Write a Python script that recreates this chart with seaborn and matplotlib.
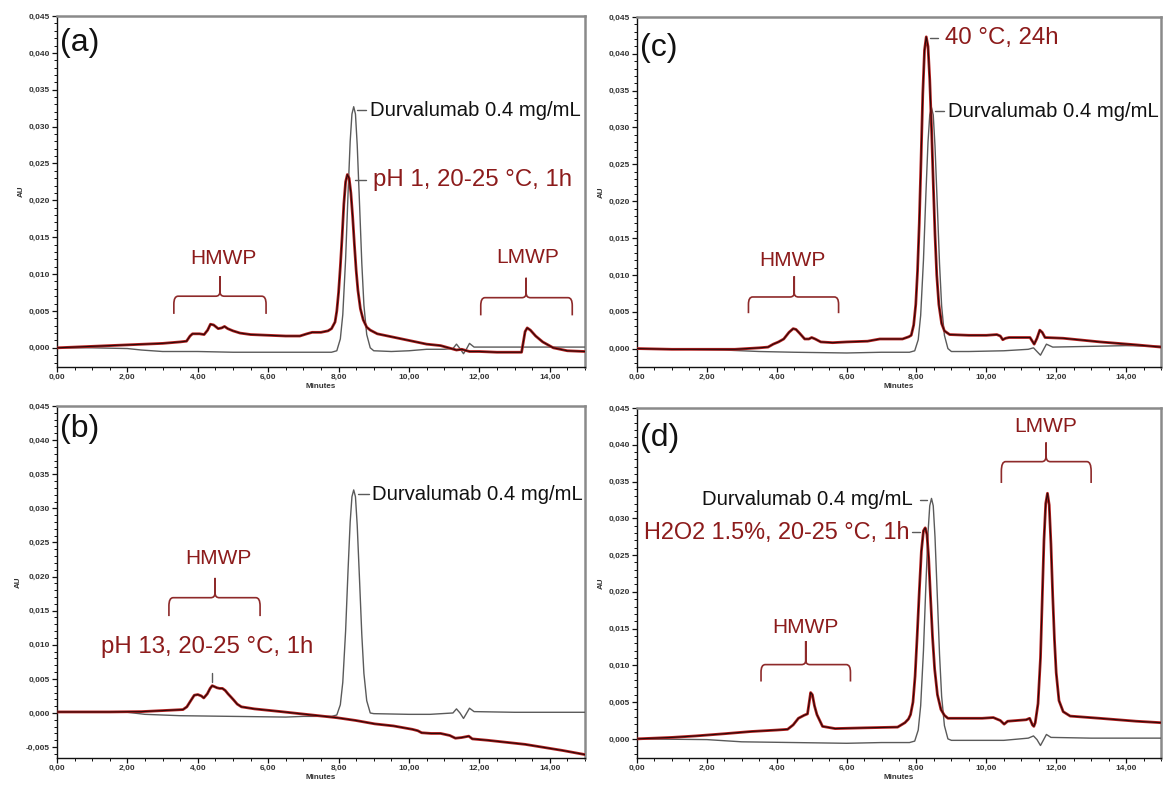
import numpy as np
import pandas as pd
import matplotlib
matplotlib.use("Agg")
import matplotlib.pyplot as plt
from matplotlib.path import Path
from matplotlib.patches import PathPatch
from matplotlib.ticker import MultipleLocator, FuncFormatter
import seaborn as sns

# ---- chromatogram traces: (minutes, AU) -------------------------------------
# Durvalumab 0.4 mg/mL reference injection, as recorded next to each stress sample
ref_a = [(0, 0.0), (1.0, 0.0), (2.0, -0.0001), (2.4, -0.0003), (3.0, -0.0005), (4.0, -0.0005),
         (5.0, -0.0006), (6.0, -0.0006), (7.0, -0.0006), (7.8, -0.0006), (7.95, -0.0004),
         (8.05, 0.0012), (8.12, 0.0045), (8.20, 0.0120), (8.27, 0.0210), (8.33, 0.0280),
         (8.38, 0.0317), (8.43, 0.0327), (8.48, 0.0317), (8.53, 0.0275), (8.60, 0.0190),
         (8.66, 0.0115), (8.72, 0.0058), (8.80, 0.0018), (8.90, 0.0), (9.0, -0.0004),
         (9.5, -0.0005), (10.0, -0.0004), (10.5, -0.0002), (11.0, -0.0002), (11.25, -0.0001),
         (11.35, 0.0005), (11.45, -0.0001), (11.55, -0.0008), (11.63, -0.0002), (11.72, 0.0006),
         (11.85, 0.0001), (12.5, 0.0001), (13.5, 0.0001), (15.0, 0.0001)]

ref_b = [(0, 0.0001), (2.0, 0.0001), (2.5, -0.0002), (3.5, -0.0004), (5.0, -0.0005),
         (6.5, -0.0006), (7.0, -0.0005), (7.8, -0.0005), (7.95, -0.0003),
         (8.05, 0.0012), (8.12, 0.0045), (8.20, 0.0120), (8.27, 0.0210), (8.33, 0.0280),
         (8.38, 0.0317), (8.43, 0.0327), (8.48, 0.0317), (8.53, 0.0275), (8.60, 0.0190),
         (8.66, 0.0115), (8.72, 0.0058), (8.80, 0.0018), (8.90, 0.0), (9.0, -0.0001),
         (10.0, -0.0002), (10.6, -0.0002), (11.25, 0.0), (11.35, 0.0006), (11.45, 0.0),
         (11.55, -0.0008), (11.63, -0.0001), (11.72, 0.0007), (11.85, 0.0002), (13.0, 0.0001),
         (15.0, 0.0001)]

ref_c = [(0, 0.0), (1.5, -0.0001), (2.5, -0.0002), (3.5, -0.0004), (4.5, -0.0005),
         (6.0, -0.0006), (7.0, -0.0005), (7.8, -0.0005), (7.95, -0.0003),
         (8.05, 0.0012), (8.12, 0.0045), (8.20, 0.0120), (8.27, 0.0210), (8.33, 0.0280),
         (8.38, 0.0317), (8.43, 0.0327), (8.48, 0.0317), (8.53, 0.0275), (8.60, 0.0190),
         (8.66, 0.0115), (8.72, 0.0058), (8.80, 0.0018), (8.90, 0.0), (9.0, -0.0004),
         (9.5, -0.0004), (10.5, -0.0003), (11.2, -0.0001), (11.35, 0.0001), (11.55, -0.0009),
         (11.72, 0.0006), (11.9, 0.0002), (13.0, 0.0003), (14.0, 0.0004), (15.0, 0.0003)]

ref_d = [(0, 0.0), (2.0, -0.0001), (3.0, -0.0004), (4.5, -0.0005), (6.0, -0.0006),
         (7.0, -0.0005), (7.8, -0.0005), (7.95, -0.0003),
         (8.05, 0.0012), (8.12, 0.0045), (8.20, 0.0120), (8.27, 0.0210), (8.33, 0.0280),
         (8.38, 0.0317), (8.43, 0.0327), (8.48, 0.0317), (8.53, 0.0275), (8.60, 0.0190),
         (8.66, 0.0115), (8.72, 0.0058), (8.80, 0.0018), (8.90, 0.0), (9.0, -0.0002),
         (9.5, -0.0002), (10.5, -0.0002), (11.2, 0.0001), (11.35, 0.0004), (11.45, -0.0001),
         (11.55, -0.0009), (11.63, -0.0002), (11.72, 0.0006), (11.85, 0.0002), (13.0, 0.0001),
         (15.0, 0.0001)]

# Stressed samples
acid_a = [(0, 0.0), (1.0, 0.0002), (2.0, 0.0004), (3.0, 0.0006), (3.5, 0.0008), (3.68, 0.0009),
          (3.78, 0.0016), (3.85, 0.0019), (4.05, 0.0019), (4.18, 0.0018), (4.28, 0.0024),
          (4.36, 0.0032), (4.45, 0.0031), (4.58, 0.0026), (4.68, 0.0027), (4.76, 0.0029),
          (4.85, 0.0026), (5.0, 0.0023), (5.2, 0.0020), (5.5, 0.0018), (6.0, 0.0017),
          (6.5, 0.0016), (6.9, 0.0016), (7.1, 0.0019), (7.25, 0.0021), (7.5, 0.0021),
          (7.7, 0.0023), (7.8, 0.0026), (7.9, 0.0035), (7.95, 0.0050), (8.00, 0.0075),
          (8.05, 0.0110), (8.10, 0.0150), (8.15, 0.0195), (8.20, 0.0225), (8.25, 0.0235),
          (8.30, 0.0230), (8.35, 0.0210), (8.40, 0.0178), (8.45, 0.0140), (8.50, 0.0105),
          (8.55, 0.0078), (8.62, 0.0053), (8.70, 0.0038), (8.80, 0.0028), (8.90, 0.0024),
          (9.1, 0.0019), (9.6, 0.0014), (10.1, 0.0009), (10.5, 0.0005), (10.9, 0.0003),
          (11.2, -0.0001), (11.35, -0.0003), (11.5, -0.0002), (11.72, -0.0005), (12.0, -0.0005),
          (12.5, -0.0006), (13.0, -0.0006), (13.2, -0.0006), (13.25, 0.0008), (13.3, 0.0022),
          (13.36, 0.0027), (13.45, 0.0024), (13.6, 0.0016), (13.8, 0.0008), (14.1, 0.0),
          (14.5, -0.0004), (15.0, -0.0005)]

base_b = [(0, 0.00015), (1.5, 0.00015), (2.4, 0.0002), (3.2, 0.0004), (3.58, 0.0005),
          (3.69, 0.0009), (3.8, 0.0018), (3.9, 0.0026), (4.0, 0.0027), (4.1, 0.0025),
          (4.17, 0.0022), (4.27, 0.0028), (4.35, 0.0036), (4.41, 0.0040), (4.5, 0.0038),
          (4.54, 0.0037), (4.62, 0.0036), (4.7, 0.0036), (4.78, 0.0033), (4.86, 0.0028),
          (4.95, 0.0023), (5.02, 0.0019), (5.12, 0.0013), (5.24, 0.0009), (5.61, 0.0006),
          (6.36, 0.0002), (6.89, -0.0001), (7.43, -0.0004), (7.96, -0.0007), (8.49, -0.0011),
          (9.03, -0.0016), (9.56, -0.0019), (10.1, -0.0024), (10.25, -0.0026), (10.36, -0.0029),
          (10.63, -0.0030), (10.9, -0.0030), (11.16, -0.0033), (11.32, -0.0037), (11.5, -0.0036),
          (11.6, -0.0035), (11.7, -0.0034), (11.8, -0.0038), (12.23, -0.0040), (13.3, -0.0046),
          (14.37, -0.0055), (15.0, -0.0061)]

heat_c = [(0, 0.0), (1.0, -0.0001), (2.0, -0.0001), (2.8, -0.0001), (3.5, 0.0001),
          (3.75, 0.0002), (3.9, 0.0006), (4.05, 0.0009), (4.2, 0.0013), (4.35, 0.0022),
          (4.47, 0.0027), (4.55, 0.0026), (4.65, 0.0021), (4.8, 0.0013), (4.92, 0.0013),
          (5.0, 0.0015), (5.1, 0.0013), (5.26, 0.0009), (5.6, 0.0008), (6.0, 0.0009),
          (6.6, 0.0010), (6.95, 0.0013), (7.3, 0.0013), (7.6, 0.0013), (7.78, 0.0016),
          (7.85, 0.0018), (7.92, 0.0032), (7.98, 0.0060), (8.03, 0.0105), (8.08, 0.0170),
          (8.13, 0.0255), (8.18, 0.0345), (8.23, 0.0405), (8.28, 0.0423), (8.33, 0.0410),
          (8.38, 0.0365), (8.43, 0.0300), (8.48, 0.0225), (8.53, 0.0155), (8.58, 0.0100),
          (8.64, 0.0060), (8.72, 0.0034), (8.80, 0.0024), (8.95, 0.0019), (9.5, 0.0018),
          (10.0, 0.0018), (10.3, 0.0019), (10.4, 0.0017), (10.47, 0.0012), (10.55, 0.0014),
          (10.65, 0.0015), (11.0, 0.0015), (11.25, 0.0015), (11.37, 0.0006), (11.45, 0.0014),
          (11.53, 0.0025), (11.6, 0.0022), (11.68, 0.0015), (12.2, 0.0014), (13.26, 0.0009),
          (14.3, 0.0005), (15.0, 0.0002)]

ox_d = [(0, 0.0), (1.0, 0.0002), (1.68, 0.0004), (2.5, 0.0007), (3.26, 0.0010), (4.0, 0.0012),
        (4.31, 0.0013), (4.47, 0.0019), (4.62, 0.0028), (4.78, 0.0032), (4.88, 0.0034),
        (4.93, 0.0050), (4.97, 0.0063), (5.02, 0.0060), (5.08, 0.0045), (5.15, 0.0033),
        (5.31, 0.0017), (5.67, 0.0014), (6.51, 0.0015), (7.46, 0.0016), (7.67, 0.0022),
        (7.77, 0.0027), (7.83, 0.0033), (7.90, 0.0050), (7.96, 0.0085), (8.02, 0.0140),
        (8.08, 0.0200), (8.14, 0.0255), (8.20, 0.0283), (8.25, 0.0287), (8.30, 0.0278),
        (8.35, 0.0245), (8.40, 0.0195), (8.46, 0.0138), (8.52, 0.0095), (8.60, 0.0060),
        (8.70, 0.0040), (8.80, 0.0032), (8.9, 0.0028), (9.46, 0.0028), (9.88, 0.0028),
        (10.2, 0.0029), (10.4, 0.0025), (10.51, 0.0020), (10.61, 0.0024), (11.14, 0.0026),
        (11.24, 0.0028), (11.32, 0.0019), (11.36, 0.0017), (11.40, 0.0022), (11.48, 0.0048),
        (11.55, 0.0110), (11.60, 0.0190), (11.65, 0.0270), (11.70, 0.0320), (11.75, 0.0334),
        (11.80, 0.0318), (11.85, 0.0265), (11.90, 0.0195), (11.95, 0.0135), (12.00, 0.0090),
        (12.08, 0.0052), (12.2, 0.0037), (12.4, 0.0031), (13.24, 0.0028), (14.29, 0.0024),
        (15.0, 0.0022)]

panel_letters = ["(a)", "(b)", "(c)", "(d)"]
ref_label = "Durvalumab 0.4 mg/mL"
stress_labels = ["pH 1, 20-25 °C, 1h", "pH 13, 20-25 °C, 1h", "40 °C, 24h",
                 "H2O2 1.5%, 20-25 °C, 1h"]

# ---- styling ----------------------------------------------------------------
sns.set_theme(style="white")
plt.rcParams["font.family"] = ["Liberation Sans", "DejaVu Sans"]

RED_TEXT = "#8c1b1b"
RED_LINE = "#b3201f"
BRACE = "#8e2a2a"
GREY = "#5a5a5a"
REF_FS = 14.6
STRESS_FS = 17.3
TAG_FS = 15

fig = plt.figure(figsize=(11.68, 7.85), dpi=100)
axes = {
    "a": fig.add_axes([0.0488, 0.5325, 0.4520, 0.4471]),
    "c": fig.add_axes([0.5454, 0.5325, 0.4486, 0.4459]),
    "b": fig.add_axes([0.0488, 0.0344, 0.4520, 0.4484]),
    "d": fig.add_axes([0.5454, 0.0344, 0.4486, 0.4459]),
}
ylims = {"a": (-0.0026, 0.045), "c": (-0.0025, 0.045), "b": (-0.0066, 0.045), "d": (-0.0026, 0.045)}


def frame(df):
    return pd.DataFrame(df, columns=["Minutes", "AU"])


def trace(ax, pts, kind):
    d = frame(pts)
    if kind == "ref":
        sns.lineplot(data=d, x="Minutes", y="AU", ax=ax, color=GREY, lw=1.0, sort=False, zorder=3)
    else:
        sns.lineplot(data=d, x="Minutes", y="AU", ax=ax, color=RED_LINE, lw=2.0, sort=False, zorder=4)
        sns.lineplot(data=d, x="Minutes", y="AU", ax=ax, color="#2a0808", lw=0.8, sort=False, zorder=5)


def brace(ax, x0, x1, xm, y_end, y_bar, y_tip):
    dx = 0.12
    dy = (y_bar - y_end) * 0.45
    verts = [(x0, y_end), (x0, y_bar - dy), (x0, y_bar), (x0 + dx, y_bar),
             (xm - dx, y_bar), (xm, y_bar), (xm, y_bar + dy * 0.6), (xm, y_tip),
             (xm, y_bar + dy * 0.6), (xm, y_bar), (xm + dx, y_bar),
             (x1 - dx, y_bar), (x1, y_bar), (x1, y_bar - dy), (x1, y_end)]
    codes = [Path.MOVETO, Path.LINETO, Path.CURVE3, Path.CURVE3,
             Path.LINETO, Path.CURVE3, Path.CURVE3, Path.LINETO,
             Path.LINETO, Path.CURVE3, Path.CURVE3,
             Path.LINETO, Path.CURVE3, Path.CURVE3, Path.LINETO]
    ax.add_patch(PathPatch(Path(verts, codes), fill=False, edgecolor=BRACE, lw=1.2, zorder=6))


def style_axis(ax, key):
    ax.set_xlim(0, 15)
    ax.set_ylim(*ylims[key])
    ax.xaxis.set_major_locator(MultipleLocator(2))
    ax.xaxis.set_minor_locator(MultipleLocator(0.5))
    ax.yaxis.set_major_locator(MultipleLocator(0.005))
    ax.yaxis.set_minor_locator(MultipleLocator(0.001))
    ax.xaxis.set_major_formatter(FuncFormatter(lambda v, p: f"{v:.2f}".replace(".", ",")))
    ax.yaxis.set_major_formatter(FuncFormatter(lambda v, p: f"{v:.3f}".replace(".", ",")))
    ax.tick_params(axis="both", which="major", direction="out", length=3.5, width=0.9,
                   labelsize=6, colors="#111111", pad=1.5, bottom=True, left=True)
    ax.tick_params(axis="both", which="minor", direction="out", length=2.2, width=0.7,
                   colors="#111111", bottom=True, left=True)
    for lab in ax.get_xticklabels() + ax.get_yticklabels():
        lab.set_fontweight("bold")
        lab.set_color("#333333")
    ax.set_xlabel("Minutes", fontsize=5.8, labelpad=1.5, color="#333333", fontweight="bold")
    ax.set_ylabel("AU", fontsize=5.8, labelpad=3, color="#333333", fontweight="bold")
    for side in ("left", "bottom"):
        ax.spines[side].set_color("#111111")
        ax.spines[side].set_linewidth(1.0)
    for side in ("top", "right"):
        ax.spines[side].set_color("#8a8a8a")
        ax.spines[side].set_linewidth(1.8)
    ax.set_facecolor("white")


def dash(ax, x0, x1, y, color):
    ax.plot([x0, x1], [y, y], color=color, lw=1.0, zorder=6)


# ---- (a) acid ---------------------------------------------------------------
ax = axes["a"]
trace(ax, ref_a, "ref")
trace(ax, acid_a, "stress")
style_axis(ax, "a")
dash(ax, 8.52, 8.78, 0.0322, GREY)
ax.text(8.88, 0.0322, ref_label, fontsize=REF_FS, color="#111111", va="center", ha="left")
dash(ax, 8.46, 8.78, 0.0228, GREY)
ax.text(8.98, 0.0228, stress_labels[0], fontsize=STRESS_FS, color=RED_TEXT, va="center", ha="left")
brace(ax, 3.32, 5.94, 4.63, 0.0046, 0.0070, 0.0097)
ax.text(4.73, 0.0121, "HMWP", fontsize=TAG_FS, color=RED_TEXT, ha="center", va="center")
brace(ax, 12.04, 14.64, 13.33, 0.0044, 0.0068, 0.0095)
ax.text(13.38, 0.0123, "LMWP", fontsize=TAG_FS, color=RED_TEXT, ha="center", va="center")
ax.text(0.08, 0.0414, panel_letters[0], fontsize=23, color="#111111", ha="left", va="center")

# ---- (b) base ---------------------------------------------------------------
ax = axes["b"]
trace(ax, ref_b, "ref")
trace(ax, base_b, "stress")
style_axis(ax, "b")
dash(ax, 8.55, 8.87, 0.0321, GREY)
ax.text(8.96, 0.0321, ref_label, fontsize=REF_FS, color="#111111", va="center", ha="left")
brace(ax, 3.18, 5.77, 4.49, 0.0142, 0.0169, 0.0198)
ax.text(4.59, 0.0226, "HMWP", fontsize=TAG_FS, color=RED_TEXT, ha="center", va="center")
ax.text(4.27, 0.0096, stress_labels[1], fontsize=STRESS_FS, color=RED_TEXT, ha="center", va="center")
ax.plot([4.41, 4.41], [0.0046, 0.0058], color=GREY, lw=1.0, zorder=6)
ax.text(0.08, 0.0417, panel_letters[1], fontsize=23, color="#111111", ha="left", va="center")

# ---- (c) heat ---------------------------------------------------------------
ax = axes["c"]
trace(ax, ref_c, "ref")
trace(ax, heat_c, "stress")
style_axis(ax, "c")
dash(ax, 8.38, 8.62, 0.0421, GREY)
ax.text(8.82, 0.0421, stress_labels[2], fontsize=STRESS_FS, color=RED_TEXT, va="center", ha="left")
dash(ax, 8.53, 8.79, 0.0322, GREY)
ax.text(8.90, 0.0322, ref_label, fontsize=REF_FS, color="#111111", va="center", ha="left")
brace(ax, 3.19, 5.77, 4.50, 0.0048, 0.0070, 0.0098)
ax.text(4.45, 0.0119, "HMWP", fontsize=TAG_FS, color=RED_TEXT, ha="center", va="center")
ax.text(0.08, 0.0408, panel_letters[2], fontsize=23, color="#111111", ha="left", va="center")

# ---- (d) oxidation ----------------------------------------------------------
ax = axes["d"]
trace(ax, ref_d, "ref")
trace(ax, ox_d, "stress")
style_axis(ax, "d")
dash(ax, 8.09, 8.30, 0.0325, GREY)
ax.text(7.88, 0.0325, ref_label, fontsize=REF_FS, color="#111111", va="center", ha="right")
dash(ax, 7.88, 8.10, 0.0281, GREY)
ax.text(7.80, 0.0281, stress_labels[3], fontsize=16.9, color=RED_TEXT, va="center", ha="right")
brace(ax, 3.55, 6.11, 4.83, 0.0078, 0.0101, 0.0133)
ax.text(4.83, 0.0152, "HMWP", fontsize=TAG_FS, color=RED_TEXT, ha="center", va="center")
brace(ax, 10.43, 13.0, 11.71, 0.0348, 0.0377, 0.0403)
ax.text(11.71, 0.0425, "LMWP", fontsize=TAG_FS, color=RED_TEXT, ha="center", va="center")
ax.text(0.08, 0.0409, panel_letters[3], fontsize=23, color="#111111", ha="left", va="center")

fig.savefig("out.png", dpi=100, facecolor="white")
